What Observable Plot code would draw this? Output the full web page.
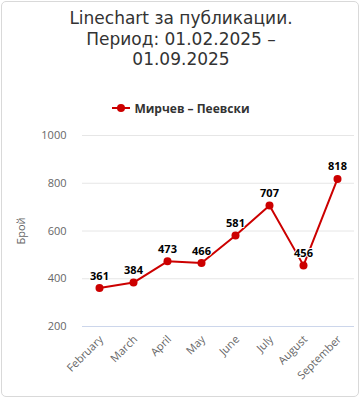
<!DOCTYPE html>
<html>
<head>
<meta charset="utf-8">
<script src="https://cdn.jsdelivr.net/npm/d3@7"></script>
<script src="https://cdn.jsdelivr.net/npm/@observablehq/plot@0.6"></script>
<style>
  html, body { margin: 0; padding: 0; background: #fff; }
  #wrap { position: relative; width: 360px; height: 400px; overflow: hidden; }
  #frame { position: absolute; left: 1px; top: 1px; width: 356px; height: 394px; border: 1px solid #d9d9d9; border-radius: 5px; box-sizing: content-box; }
  #title { position: absolute; left: 0; top: 8px; width: 362px; text-align: center; font-family: "DejaVu Sans", sans-serif; font-size: 17px; line-height: 20.5px; color: #333333; }
  #legend { position: absolute; left: 0; top: 100px; width: 362px; height: 16px; display: flex; justify-content: center; align-items: center; gap: 4px; font-family: "Open Sans", sans-serif; font-size: 12px; font-weight: bold; color: #333333; }
  #chart { position: absolute; left: 0; top: 120px; }
</style>
</head>
<body>
<div id="wrap">
  <div id="frame"></div>
  <div id="title"></div>
  <div id="legend"></div>
  <div id="chart"></div>
</div>
<script>
const titleLines = ["Linechart за публикации.", "Период: 01.02.2025 –", "01.09.2025"];
const seriesName = "Мирчев – Пеевски";
const yAxisTitle = "Брой";
const months = ["February", "March", "April", "May", "June", "July", "August", "September"];
const counts = [361, 384, 473, 466, 581, 707, 456, 818];
const yTicks = [200, 400, 600, 800, 1000];
const lineColor = "#cc0000";

// Title
const titleEl = document.getElementById("title");
titleLines.forEach((t, i) => {
  if (i > 0) titleEl.appendChild(document.createElement("br"));
  titleEl.appendChild(document.createTextNode(t));
});

// Legend
const legendEl = document.getElementById("legend");
legendEl.innerHTML = `<svg width="18" height="10" style="display:block"><line x1="0" x2="18" y1="5" y2="5" stroke="${lineColor}" stroke-width="2"/><circle cx="9" cy="5" r="4" fill="${lineColor}"/></svg>`;
const legendText = document.createElement("span");
legendText.textContent = seriesName;
legendEl.appendChild(legendText);

const data = months.map((m, i) => ({month: m, value: counts[i]}));

const chart = Plot.plot({
  width: 360,
  height: 275,
  marginTop: 15,
  marginBottom: 69,
  marginLeft: 82,
  marginRight: 6,
  style: {fontFamily: "'Open Sans', sans-serif", background: "transparent", overflow: "visible"},
  x: {type: "point", domain: months, padding: 0.5, axis: null},
  y: {domain: [200, 1000], axis: null},
  marks: [
    Plot.ruleY(yTicks.filter(d => d > 200), {stroke: "#e6e6e6", strokeWidth: 1}),
    Plot.ruleY([200], {stroke: "#ccd6eb", strokeWidth: 1}),
    Plot.axisY(yTicks, {tickSize: 0, tickPadding: 16, fontSize: 11, fill: "#666666", label: null, tickFormat: d => String(d)}),
    Plot.text([yAxisTitle], {text: d => d, y: () => 600, frameAnchor: "left", textAnchor: "middle", dx: -61, rotate: -90, fill: "#666666", fontSize: 11}),
    Plot.line(data, {x: "month", y: "value", stroke: lineColor, strokeWidth: 2}),
    Plot.dot(data, {x: "month", y: "value", r: 4, fill: lineColor}),
    Plot.text(data, {x: "month", y: "value", text: d => String(d.value), dy: -12, fontWeight: "bold", fontSize: 11, fill: "#000000", stroke: "white", strokeWidth: 2}),
    Plot.text(months, {x: d => d, text: d => d, frameAnchor: "bottom", dy: 11, dx: 2, rotate: -45, textAnchor: "end", lineAnchor: "middle", fontSize: 11, fill: "#666666"})
  ]
});
document.getElementById("chart").appendChild(chart);
</script>
</body>
</html>
